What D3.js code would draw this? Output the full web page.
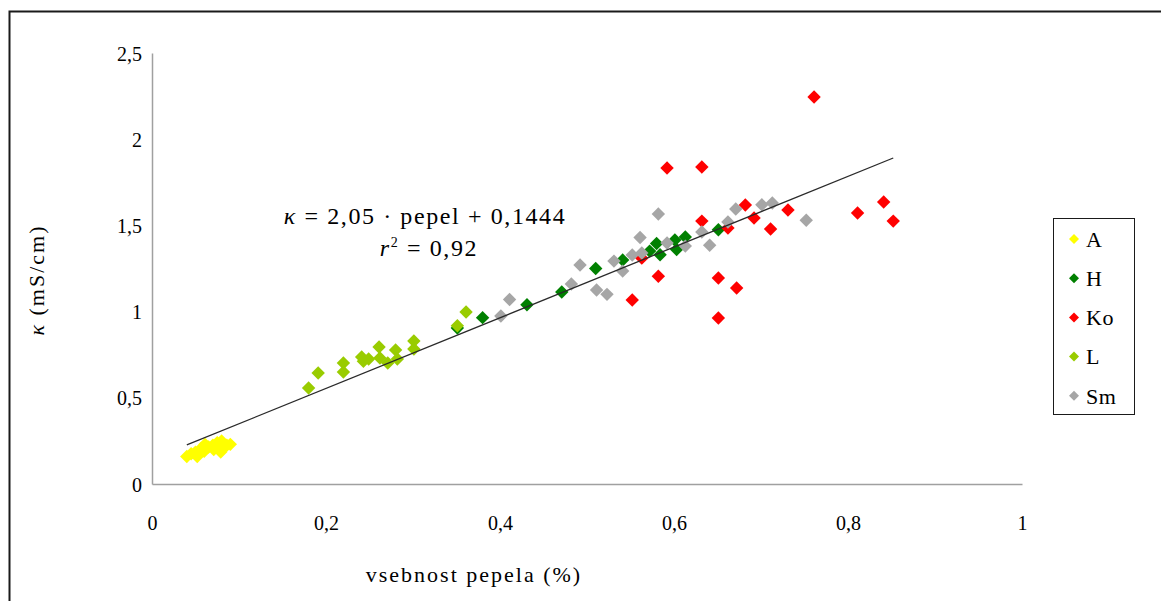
<!DOCTYPE html>
<html>
<head>
<meta charset="utf-8">
<script src="https://cdn.jsdelivr.net/npm/d3@7"></script>
<style>
html,body{margin:0;padding:0;background:#fff;}
svg{display:block;}
svg text{fill:#000;}
</style>
</head>
<body>
<svg id="chart" width="1161" height="601"></svg>
<script>
// ---- data ----
const seriesNames = ["A", "H", "Ko", "L", "Sm"];
const seriesColors = ["#FFFF00", "#008000", "#FF0000", "#99CC00", "#A6A6A6"];

const A_x = [0.040, 0.045, 0.050, 0.052, 0.056, 0.060, 0.061, 0.065, 0.070, 0.071, 0.075, 0.079, 0.080, 0.082, 0.086, 0.090];
const A_y = [0.160, 0.175, 0.185, 0.160, 0.205, 0.190, 0.230, 0.215, 0.225, 0.200, 0.240, 0.185, 0.250, 0.210, 0.225, 0.230];

const H_x = [0.351, 0.380, 0.431, 0.471, 0.510, 0.541, 0.572, 0.580, 0.584, 0.601, 0.603, 0.613, 0.651];
const H_y = [0.905, 0.965, 1.040, 1.114, 1.250, 1.299, 1.351, 1.395, 1.330, 1.415, 1.360, 1.433, 1.475];

const Ko_x = [0.761, 0.592, 0.632, 0.841, 0.811, 0.852, 0.682, 0.731, 0.692, 0.711, 0.632, 0.662, 0.563, 0.582, 0.651, 0.672, 0.552, 0.651];
const Ko_y = [2.245, 1.833, 1.839, 1.636, 1.572, 1.525, 1.618, 1.589, 1.543, 1.479, 1.525, 1.485, 1.310, 1.205, 1.195, 1.137, 1.067, 0.963];

const L_x = [0.180, 0.191, 0.220, 0.220, 0.241, 0.243, 0.249, 0.261, 0.262, 0.271, 0.280, 0.282, 0.301, 0.301, 0.351, 0.361];
const L_y = [0.557, 0.644, 0.702, 0.650, 0.737, 0.712, 0.725, 0.795, 0.731, 0.702, 0.777, 0.725, 0.829, 0.783, 0.918, 0.998];

const Sm_x = [0.401, 0.411, 0.482, 0.492, 0.511, 0.523, 0.531, 0.541, 0.552, 0.563, 0.561, 0.582, 0.592, 0.613, 0.632, 0.641, 0.662, 0.671, 0.701, 0.713, 0.752];
const Sm_y = [0.974, 1.070, 1.160, 1.270, 1.125, 1.100, 1.293, 1.235, 1.328, 1.340, 1.430, 1.566, 1.398, 1.380, 1.462, 1.385, 1.520, 1.595, 1.620, 1.630, 1.530];

const seriesX = [A_x, H_x, Ko_x, L_x, Sm_x];
const seriesY = [A_y, H_y, Ko_y, L_y, Sm_y];

const xTicks = [0, 0.2, 0.4, 0.6, 0.8, 1];
const yTicks = [0, 0.5, 1, 1.5, 2, 2.5];

const trendSlope = 2.05;
const trendIntercept = 0.1444;
const trendRange = [0.04, 0.852];

const xTitle = "vsebnost pepela (%)";

// ---- drawing ----
const svg = d3.select("#chart");
const fmt = v => String(v).replace(".", ",");
const FONT = '"Liberation Serif","Times New Roman",Times,"DejaVu Serif","Noto Serif",serif';

// outer frame
svg.append("rect").attr("x", 9.5).attr("y", 11.5).attr("width", 1170).attr("height", 620)
  .attr("fill", "none").attr("stroke", "#1a1a1a").attr("stroke-width", 2);

const x = d3.scaleLinear().domain([0, 1]).range([152, 1022]);
const y = d3.scaleLinear().domain([0, 2.5]).range([484, 53]);

// axes (lines only, no tick marks)
const xAxis = d3.axisBottom(x).tickValues(xTicks).tickSize(0).tickPadding(0).tickFormat(fmt);
const gx = svg.append("g").attr("transform", `translate(0,${y(0)})`).call(xAxis)
  .attr("font-family", FONT);
gx.select(".domain").attr("stroke", "#a0a0a0").attr("stroke-width", 1.5);
gx.selectAll("text").attr("font-size", 20).attr("dy", null).attr("y", 46);

const yAxis = d3.axisLeft(y).tickValues(yTicks).tickSize(0).tickPadding(0).tickFormat(fmt);
const gy = svg.append("g").attr("transform", `translate(${x(0)},0)`).call(yAxis)
  .attr("font-family", FONT);
gy.select(".domain").attr("stroke", "#a0a0a0").attr("stroke-width", 1.5);
gy.selectAll("text").attr("font-size", 20).attr("x", -10).attr("dy", "0.35em");

// markers
const diamond = d3.symbol().type(d3.symbolSquare).size(90);
seriesNames.forEach((name, i) => {
  const pts = seriesX[i].map((v, j) => [v, seriesY[i][j]]);
  svg.append("g").selectAll("path").data(pts).join("path")
    .attr("d", diamond)
    .attr("transform", d => `translate(${x(d[0])},${y(d[1])}) rotate(45)`)
    .attr("fill", seriesColors[i]);
});

// trendline
svg.append("line")
  .attr("x1", x(trendRange[0])).attr("y1", y(trendSlope * trendRange[0] + trendIntercept))
  .attr("x2", x(trendRange[1])).attr("y2", y(trendSlope * trendRange[1] + trendIntercept))
  .attr("stroke", "#2a2a2a").attr("stroke-width", 1.3);

// equation
const eq = svg.append("text").attr("x", 425).attr("y", 224).attr("text-anchor", "middle")
  .attr("font-size", 24).attr("letter-spacing", 1.6).attr("font-family", FONT);
eq.append("tspan").attr("font-style", "italic").text("κ");
eq.append("tspan").text(" = 2,05 · pepel + 0,1444");
const r2 = svg.append("text").attr("x", 429).attr("y", 256).attr("text-anchor", "middle")
  .attr("font-size", 24).attr("letter-spacing", 1.6).attr("font-family", FONT);
r2.append("tspan").attr("font-style", "italic").text("r");
r2.append("tspan").attr("font-size", 14).attr("dy", -9).text("2");
r2.append("tspan").attr("dy", 9).text(" = 0,92");

// axis titles
svg.append("text").attr("x", 474).attr("y", 582).attr("text-anchor", "middle")
  .attr("font-size", 22).attr("letter-spacing", 2).attr("font-family", FONT).text(xTitle);
const yt = svg.append("text").attr("transform", "translate(44,280) rotate(-90)")
  .attr("text-anchor", "middle").attr("font-size", 22).attr("letter-spacing", 2).attr("font-family", FONT);
yt.append("tspan").attr("font-style", "italic").text("κ");
yt.append("tspan").text(" (mS/cm)");

// legend
const lg = svg.append("g");
lg.append("rect").attr("x", 1053.5).attr("y", 218.5).attr("width", 81).attr("height", 196)
  .attr("fill", "#fff").attr("stroke", "#1a1a1a").attr("stroke-width", 1);
const smallDiamond = d3.symbol().type(d3.symbolSquare).size(50);
seriesNames.forEach((name, i) => {
  const cy = 239 + i * 39.2;
  lg.append("path").attr("d", smallDiamond)
    .attr("transform", `translate(1074,${cy}) rotate(45)`).attr("fill", seriesColors[i]);
  lg.append("text").attr("x", 1086).attr("y", cy).attr("dy", "0.35em")
    .attr("font-size", 22).attr("letter-spacing", 0.5).attr("font-family", FONT).text(name);
});
</script>
</body>
</html>
